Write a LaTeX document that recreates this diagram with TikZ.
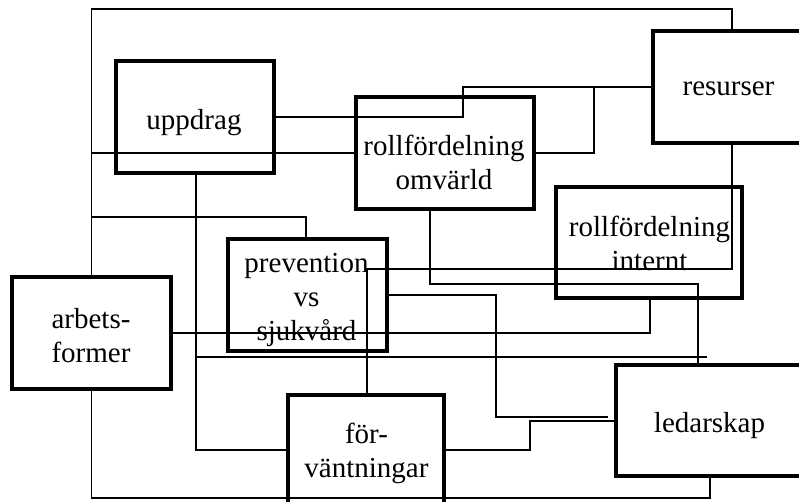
\documentclass[tikz,border=0pt]{standalone}
\usepackage{fontspec}
\setmainfont{Liberation Serif}
\usetikzlibrary{calc}
\begin{document}
\begin{tikzpicture}[x=1pt,y=-1pt,
  box/.style={draw, line width=4pt, inner sep=0pt, outer sep=0pt, minimum height=112pt},
  lbl/.style={align=center, font=\fontsize{29}{34}\selectfont, inner sep=0pt, text depth=0pt},
  link/.style={draw, line width=1.8pt}]
\useasboundingbox (0,0) rectangle (799,502);
\clip (0,0) rectangle (799,502);

% boxes
\node[box, minimum width=158pt] (upp) at (195,117) {};
\node[box, minimum width=178pt] (omv) at (445,153) {};
\node[box, minimum width=151pt] (res) at (728.5,87) {};
\node[box, minimum width=186pt, minimum height=111pt] (int) at (649,242.5) {};
\node[box, minimum width=159pt] (prev) at (307.5,295) {};
\node[box, minimum width=159pt] (arb) at (91.5,333) {};
\node[box, minimum width=156pt] (forv) at (366,451) {};
\node[box, minimum width=187pt, minimum height=111pt] (led) at (709.5,420.5) {};

% labels
\node[lbl] (upp-t) at (194,119) {uppdrag};
\node[lbl] (omv-t) at (444,162.5) {rollfördelning\\omvärld};
\node[lbl] (res-t) at (728.5,88.5) {resurser};
\node[lbl] (int-t) at (649.5,243.5) {rollfördelning\\internt};
\node[lbl] (prev-t) at (306.5,296.5) {prevention\\vs\\sjukvård};
\node[lbl] (arb-t) at (91,335) {arbets-\\former};
\node[lbl] (forv-t) at (366.5,450) {för-\\väntningar};
\node[lbl] (led-t) at (709.5,422.5) {ledarskap};

% free ends and junctions
\coordinate (frameL1) at (92,153);
\coordinate (frameL2) at (92,217);
\coordinate (ledNear) at (608,417);
\coordinate (crossA) at (196,357);
\coordinate (crossB) at (707,357);

% connectors
\draw[link] (arb.north) |- (732,9) -- (732,0 |- res.north);
\draw[link] (arb.south) |- (710,498) -- (710,0 |- led.south);
\draw[link] (upp.east) -| (463,87) -- (res.west);
\draw[link] (omv.east) -| (594,87);
\draw[link] (frameL1) -- (omv.west);
\draw[link] (upp.south -| 196,0) |- (forv.west |- 0,450);
\draw[link] (frameL2) -| (306,0 |- prev.north);
\draw[link] (430,0 |- omv.south) |- (698,284) -- (698,0 |- led.north);
\draw[link] (732,0 |- res.south) |- (367,269) -- (367,0 |- forv.north);
\draw[link] (prev.east) -| (496,417) -- (ledNear);
\draw[link] (arb.east) -| (650,0 |- int.south);
\draw[link] (crossA) -- (crossB);
\draw[link] (forv.east |- 0,450) -| (530,421) -- (led.west |- 0,421);
\end{tikzpicture}
\end{document}
